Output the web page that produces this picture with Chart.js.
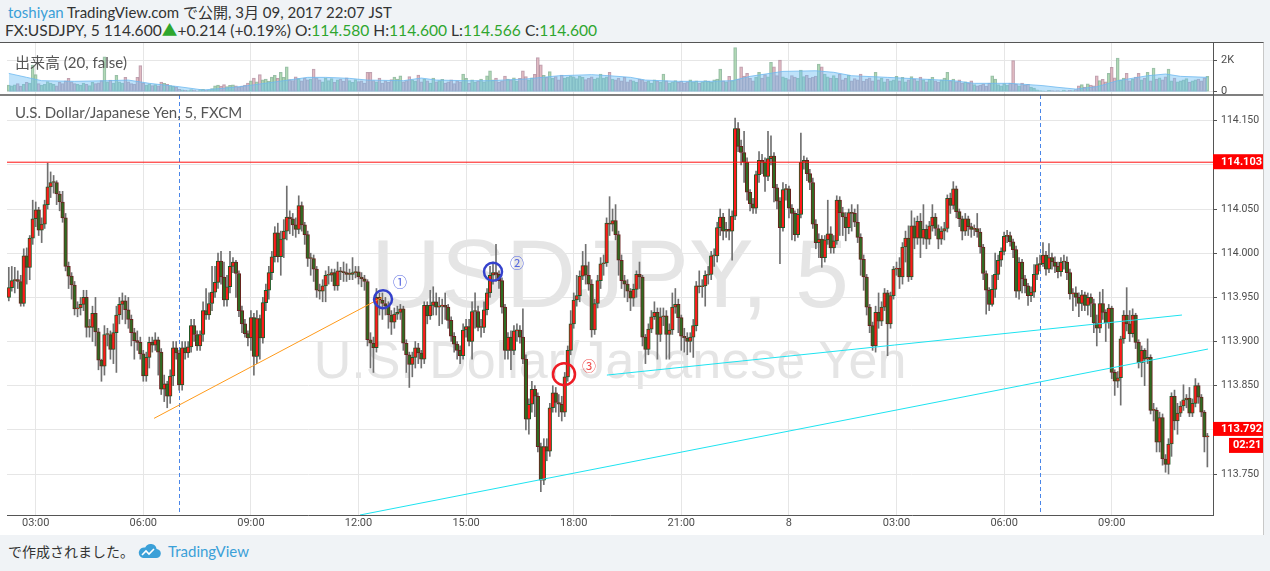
<!DOCTYPE html>
<html lang="ja">
<head>
<meta charset="utf-8">
<title>USDJPY 5</title>
<script src="https://cdn.jsdelivr.net/npm/chart.js@4.4.1/dist/chart.umd.min.js"></script>
<style>
  html, body { margin: 0; padding: 0; }
  body { width: 1270px; height: 571px; background: #f0f3f6; position: relative; overflow: hidden;
         font-family: Lato, "Noto Sans CJK JP", sans-serif; color: #333; }
  .txt { position: absolute; white-space: nowrap; line-height: 18px; font-size: 15px; z-index: 3; }
  .blue { color: #3ba0d8; }
  .green { color: #2ea62e; }
  #frame { position: absolute; left: 0; top: 42px; width: 1263px; height: 492px; background: #fff;
           border-top: 1px solid #555; border-right: 1px solid #c8c8c8; }
  #frame canvas { position: absolute; left: 0; top: 0; z-index: 2; }
  .wm { position: absolute; left: 7px; width: 1206px; text-align: center; color: #e5e5e5;
        font-family: "Liberation Sans", Arial, sans-serif; white-space: nowrap; z-index: 1; }
  .num { font-family: "Noto Sans CJK JP", sans-serif; font-size: 14px; line-height: 16px; }
</style>
</head>
<body>
<div class="txt" style="left:8px;top:3px"><span class="blue">toshiyan</span> TradingView.com で公開, 3月 09, 2017 22:07 JST</div>
<div class="txt" style="left:5px;top:21px;font-size:15.6px">FX:USDJPY, 5 114.600<span class="green">▲</span>+0.214 (+0.19%) O:<span class="green">114.580</span> H:<span class="green">114.600</span> L:<span class="green">114.566</span> C:<span class="green">114.600</span></div>

<div id="frame">
  <div class="wm" style="top:182px;font-size:97px;line-height:97px">USDJPY, 5</div>
  <div class="wm" style="top:291px;font-size:52px;line-height:52px">U.S. Dollar/Japanese Yen</div>
  <canvas id="chart" width="1263" height="492"></canvas>
</div>

<div class="txt" style="left:15px;top:53px;color:#555">出来高 (20, false)</div>
<div class="txt" style="left:15px;top:103px;color:#555">U.S. Dollar/Japanese Yen, 5, FXCM</div>
<div class="txt num" style="left:393px;top:273px;color:#5566e0">①</div>
<div class="txt num" style="left:510px;top:254px;color:#5566e0">②</div>
<div class="txt num" style="left:582px;top:357px;color:#f05050">③</div>

<div class="txt" style="left:8px;top:542px;font-size:14px;font-family:'Noto Sans CJK JP',sans-serif">で作成されました。</div>
<svg style="position:absolute;left:137px;top:543px" width="24" height="16" viewBox="0 0 24 16">
  <path d="M6 15h13a4.5 4.5 0 0 0 .6-9A6 6 0 0 0 8.2 4.6 5.2 5.2 0 0 0 6 15z" fill="#3ba0d8"/>
  <path d="M5 12l4-4 3 3 5-5" stroke="#fff" stroke-width="1.6" fill="none"/>
</svg>
<div class="txt blue" style="left:168px;top:542px">TradingView</div>

<script>
// 5 minute candles, index 0 = first bar on the left (02:15)
var openPx = [
  113.950,113.961,113.969,113.970,113.968,113.943,113.997,113.984,114.017,114.039,
  114.049,114.026,114.033,114.055,114.075,114.080,114.080,114.067,114.058,114.040,
  113.985,113.974,113.964,113.937,113.938,113.942,113.950,113.916,113.916,113.932,
  113.911,113.879,113.872,113.908,113.908,113.891,113.910,113.930,113.942,113.946,
  113.936,113.925,113.910,113.901,113.899,113.886,113.861,113.882,113.899,113.896,
  113.902,113.888,113.846,113.852,113.838,113.861,113.893,113.887,113.851,113.893,
  113.887,113.894,113.918,113.908,113.895,113.908,113.935,113.930,113.943,113.956,
  113.967,113.991,113.973,113.947,113.962,113.985,113.990,113.977,113.935,113.920,
  113.909,113.904,113.927,113.883,113.926,113.904,113.944,113.958,113.978,113.996,
  114.023,113.996,114.016,114.025,114.041,114.039,114.032,114.027,114.054,114.032,
  114.021,113.994,113.994,113.982,113.958,113.957,113.963,113.975,113.975,113.978,
  113.963,113.980,113.979,113.978,113.976,113.976,113.978,113.979,113.973,113.971,
  113.968,113.902,113.898,113.893,113.950,113.947,113.943,113.940,113.930,113.922,
  113.931,113.933,113.937,113.898,113.885,113.874,113.882,113.893,113.887,113.880,
  113.941,113.929,113.941,113.945,113.939,113.940,113.941,113.939,113.924,113.906,
  113.897,113.890,113.884,113.913,113.917,113.900,113.934,113.934,113.916,113.916,
  113.936,113.955,113.975,113.978,113.976,113.969,113.939,113.890,113.905,113.890,
  113.912,113.913,113.905,113.880,113.812,113.829,113.846,113.838,113.781,113.743,
  113.781,113.776,113.825,113.842,113.831,113.829,113.820,113.860,113.890,113.920,
  113.947,113.952,113.974,113.986,113.975,113.965,113.913,113.943,113.969,113.988,
  113.989,114.034,114.033,114.037,114.021,113.992,113.969,113.965,113.957,113.949,
  113.959,113.976,113.973,113.905,113.891,113.914,113.928,113.933,113.908,113.928,
  113.929,113.908,113.913,113.939,113.942,113.927,113.906,113.904,113.900,113.905,
  113.918,113.963,113.962,113.963,113.975,113.976,113.997,113.997,114.029,114.041,
  114.025,114.027,114.025,114.042,114.141,114.121,114.114,114.103,114.069,114.056,
  114.051,114.089,114.105,114.103,114.087,114.107,114.110,114.074,114.059,114.029,
  114.072,114.073,114.051,114.045,114.021,114.044,114.103,114.105,114.090,114.080,
  114.033,114.012,114.016,113.995,114.015,114.022,114.006,114.014,114.060,114.046,
  114.041,114.029,114.046,114.045,114.035,114.018,113.993,113.973,113.939,113.918,
  113.895,113.933,113.923,113.939,113.955,113.920,113.952,113.982,113.983,113.973,
  114.007,114.017,113.973,114.031,114.017,114.036,114.017,114.027,114.016,114.031,
  114.041,114.028,114.016,114.025,114.028,114.062,114.054,114.073,114.047,114.039,
  114.025,114.039,114.030,114.027,114.028,114.024,114.007,113.977,113.958,113.942,
  113.959,113.976,113.992,114.002,114.019,114.020,114.013,114.004,113.957,113.990,
  113.971,113.963,113.952,113.956,113.976,113.987,113.988,113.998,113.982,113.995,
  113.990,113.985,113.979,113.990,113.990,113.978,113.954,113.955,113.950,113.943,
  113.953,113.941,113.950,113.943,113.921,113.915,113.943,113.933,113.921,113.938,
  113.865,113.855,113.859,113.903,113.930,113.920,113.909,113.930,113.899,113.876,
  113.890,113.880,113.882,113.822,113.822,113.786,113.814,113.767,113.761,113.784,
  113.838,113.810,113.819,113.827,113.834,113.836,113.819,113.830,113.850,113.837,
  113.820,113.792
];
var highPx = [
  113.984,113.985,113.984,113.980,113.975,114.005,114.006,114.020,114.060,114.058,
  114.052,114.040,114.060,114.102,114.092,114.088,114.082,114.070,114.070,114.045,
  113.990,113.978,113.968,113.945,113.950,113.958,113.958,113.925,113.940,113.950,
  113.915,113.880,113.918,113.915,113.912,113.920,113.940,113.950,113.955,113.952,
  113.950,113.930,113.915,113.912,113.905,113.890,113.888,113.905,113.905,113.910,
  113.905,113.892,113.862,113.855,113.868,113.900,113.900,113.890,113.900,113.900,
  113.900,113.925,113.925,113.912,113.912,113.945,113.960,113.955,113.985,113.985,
  114.000,114.002,113.990,113.975,114.002,113.995,113.992,113.980,113.940,113.925,
  113.912,113.935,113.932,113.935,113.930,113.950,113.965,113.985,114.002,114.030,
  114.034,114.025,114.038,114.076,114.048,114.045,114.040,114.065,114.058,114.035,
  114.025,114.000,113.998,113.985,113.965,113.970,113.980,113.985,113.982,113.982,
  113.990,113.984,113.990,113.988,113.982,113.995,113.985,113.985,113.978,113.975,
  113.970,113.910,113.905,113.960,113.955,113.955,113.950,113.945,113.935,113.938,
  113.940,113.942,113.940,113.902,113.888,113.888,113.900,113.898,113.890,113.945,
  113.945,113.958,113.962,113.955,113.950,113.948,113.955,113.942,113.928,113.910,
  113.900,113.895,113.920,113.925,113.925,113.945,113.955,113.940,113.925,113.945,
  113.960,113.985,113.990,114.010,113.980,113.972,113.942,113.910,113.912,113.918,
  113.920,113.918,113.937,113.885,113.835,113.855,113.850,113.842,113.785,113.790,
  113.790,113.830,113.850,113.848,113.840,113.838,113.865,113.895,113.935,113.955,
  113.975,113.980,114.002,114.010,113.990,113.970,113.948,113.975,113.995,113.998,
  114.040,114.064,114.050,114.055,114.025,113.998,113.975,113.970,113.960,113.965,
  113.980,113.990,113.975,113.908,113.920,113.935,113.945,113.938,113.938,113.938,
  113.935,113.920,113.955,113.960,113.948,113.930,113.915,113.910,113.910,113.925,
  113.968,113.980,113.970,113.980,113.985,114.002,114.005,114.035,114.050,114.045,
  114.035,114.050,114.048,114.153,114.148,114.128,114.138,114.108,114.072,114.062,
  114.093,114.115,114.112,114.108,114.138,114.133,114.114,114.078,114.063,114.080,
  114.078,114.076,114.055,114.048,114.050,114.136,114.110,114.108,114.095,114.085,
  114.038,114.022,114.020,114.020,114.060,114.030,114.020,114.065,114.064,114.052,
  114.046,114.050,114.055,114.050,114.055,114.022,113.998,113.976,113.942,113.922,
  113.940,113.955,113.945,113.960,113.958,113.956,113.985,113.990,113.995,114.012,
  114.025,114.031,114.048,114.040,114.042,114.045,114.055,114.032,114.036,114.055,
  114.045,114.032,114.030,114.035,114.066,114.068,114.081,114.076,114.050,114.042,
  114.045,114.042,114.034,114.032,114.045,114.028,114.010,113.980,113.961,113.975,
  114.000,113.998,114.006,114.024,114.026,114.024,114.016,114.008,113.995,113.993,
  113.975,113.966,113.962,113.987,113.995,113.998,114.012,114.002,114.011,114.000,
  113.996,113.990,113.995,113.998,113.996,113.982,113.960,113.962,113.955,113.958,
  113.956,113.955,113.954,113.948,113.930,113.956,113.959,113.936,113.942,113.940,
  113.868,113.866,113.906,113.935,113.961,113.935,113.937,113.932,113.902,113.895,
  113.892,113.903,113.885,113.830,113.825,113.820,113.818,113.772,113.790,113.842,
  113.845,113.830,113.832,113.851,113.840,113.848,113.835,113.858,113.853,113.840,
  113.822,113.796
];
var lowPx = [
  113.946,113.957,113.955,113.960,113.940,113.940,113.965,113.970,114.010,114.030,
  114.020,114.012,114.028,114.050,114.063,114.068,114.055,114.048,114.035,113.980,
  113.960,113.948,113.930,113.928,113.930,113.935,113.905,113.905,113.900,113.895,
  113.868,113.855,113.862,113.895,113.880,113.875,113.865,113.920,113.925,113.920,
  113.915,113.895,113.880,113.890,113.880,113.855,113.855,113.870,113.888,113.890,
  113.862,113.840,113.832,113.825,113.830,113.850,113.880,113.845,113.845,113.880,
  113.882,113.888,113.900,113.890,113.890,113.900,113.925,113.925,113.935,113.950,
  113.960,113.965,113.940,113.940,113.955,113.978,113.950,113.928,113.910,113.905,
  113.895,113.890,113.862,113.875,113.880,113.898,113.935,113.948,113.970,113.990,
  113.990,113.975,113.995,114.015,114.022,114.020,114.018,114.022,114.025,114.010,
  113.985,113.975,113.968,113.950,113.948,113.945,113.945,113.965,113.968,113.958,
  113.958,113.970,113.968,113.968,113.970,113.970,113.972,113.965,113.962,113.958,
  113.895,113.870,113.865,113.888,113.930,113.925,113.930,113.915,113.908,113.915,
  113.925,113.925,113.890,113.865,113.848,113.860,113.870,113.875,113.870,113.875,
  113.920,113.925,113.930,113.930,113.918,113.920,113.925,113.915,113.900,113.888,
  113.880,113.875,113.880,113.905,113.895,113.880,113.915,113.912,113.905,113.910,
  113.930,113.950,113.965,113.968,113.960,113.932,113.880,113.880,113.868,113.885,
  113.900,113.898,113.875,113.800,113.795,113.820,113.815,113.775,113.730,113.738,
  113.765,113.770,113.820,113.820,113.815,113.810,113.815,113.855,113.885,113.915,
  113.940,113.945,113.970,113.965,113.958,113.905,113.908,113.938,113.960,113.975,
  113.985,114.020,114.025,114.015,113.975,113.960,113.950,113.945,113.935,113.940,
  113.950,113.960,113.895,113.875,113.885,113.910,113.925,113.880,113.900,113.918,
  113.880,113.880,113.908,113.932,113.910,113.890,113.888,113.885,113.888,113.882,
  113.912,113.955,113.950,113.940,113.965,113.970,113.985,113.990,114.020,114.015,
  114.018,114.015,113.992,114.038,114.115,114.100,114.080,114.060,114.048,114.045,
  114.045,114.080,114.090,114.070,114.082,114.100,114.058,114.050,113.988,114.025,
  114.060,114.040,114.015,114.014,114.018,114.040,114.095,114.082,114.072,114.028,
  114.005,113.995,113.984,113.990,114.010,114.000,114.000,114.010,114.020,114.020,
  114.014,114.022,114.025,114.030,114.012,113.975,113.958,113.930,113.910,113.890,
  113.888,113.915,113.918,113.935,113.884,113.915,113.948,113.975,113.960,113.965,
  113.990,113.968,113.970,114.005,114.010,113.995,114.010,114.005,114.010,114.025,
  114.020,114.005,114.010,114.015,114.024,114.045,114.050,114.040,114.030,114.015,
  114.020,114.020,114.018,114.020,114.018,114.000,113.970,113.931,113.935,113.940,
  113.950,113.970,113.985,113.998,114.012,114.008,113.995,113.950,113.948,113.955,
  113.955,113.941,113.945,113.950,113.970,113.980,113.985,113.975,113.978,113.982,
  113.978,113.972,113.974,113.982,113.970,113.948,113.935,113.940,113.928,113.935,
  113.935,113.930,113.928,113.910,113.895,113.910,113.925,113.900,113.915,113.858,
  113.839,113.848,113.828,113.898,113.912,113.900,113.905,113.892,113.870,113.860,
  113.850,113.875,113.818,113.810,113.775,113.775,113.760,113.752,113.750,113.770,
  113.800,113.795,113.815,113.822,113.825,113.815,113.815,113.826,113.830,113.815,
  113.775,113.758
];
var closePx = [
  113.961,113.969,113.970,113.968,113.943,113.997,113.984,114.017,114.039,114.049,
  114.026,114.033,114.055,114.075,114.080,114.080,114.067,114.058,114.040,113.985,
  113.974,113.964,113.937,113.938,113.942,113.950,113.916,113.916,113.932,113.911,
  113.879,113.872,113.908,113.908,113.891,113.910,113.930,113.942,113.946,113.936,
  113.925,113.910,113.901,113.899,113.886,113.861,113.882,113.899,113.896,113.902,
  113.888,113.846,113.852,113.838,113.861,113.893,113.887,113.851,113.893,113.887,
  113.894,113.918,113.908,113.895,113.908,113.935,113.930,113.943,113.956,113.967,
  113.991,113.973,113.947,113.962,113.985,113.990,113.977,113.935,113.920,113.909,
  113.904,113.927,113.883,113.926,113.904,113.944,113.958,113.978,113.996,114.023,
  113.996,114.016,114.025,114.041,114.039,114.032,114.027,114.054,114.032,114.021,
  113.994,113.994,113.982,113.958,113.957,113.963,113.975,113.975,113.978,113.963,
  113.980,113.979,113.978,113.976,113.976,113.978,113.979,113.973,113.971,113.968,
  113.902,113.898,113.893,113.950,113.947,113.943,113.940,113.930,113.922,113.931,
  113.933,113.937,113.898,113.885,113.874,113.882,113.893,113.887,113.880,113.941,
  113.929,113.941,113.945,113.939,113.940,113.941,113.939,113.924,113.906,113.897,
  113.890,113.884,113.913,113.917,113.900,113.934,113.934,113.916,113.916,113.936,
  113.955,113.975,113.978,113.976,113.969,113.939,113.890,113.905,113.890,113.912,
  113.913,113.905,113.880,113.812,113.829,113.846,113.838,113.781,113.743,113.781,
  113.776,113.825,113.842,113.831,113.829,113.820,113.860,113.890,113.920,113.947,
  113.952,113.974,113.986,113.975,113.965,113.913,113.943,113.969,113.988,113.989,
  114.034,114.033,114.037,114.021,113.992,113.969,113.965,113.957,113.949,113.959,
  113.976,113.973,113.905,113.891,113.914,113.928,113.933,113.908,113.928,113.929,
  113.908,113.913,113.939,113.942,113.927,113.906,113.904,113.900,113.905,113.918,
  113.963,113.962,113.963,113.975,113.976,113.997,113.997,114.029,114.041,114.025,
  114.027,114.025,114.042,114.141,114.121,114.114,114.103,114.069,114.056,114.051,
  114.089,114.105,114.103,114.087,114.107,114.110,114.074,114.059,114.029,114.072,
  114.073,114.051,114.045,114.021,114.044,114.103,114.105,114.090,114.080,114.033,
  114.012,114.016,113.995,114.015,114.022,114.006,114.014,114.060,114.046,114.041,
  114.029,114.046,114.045,114.035,114.018,113.993,113.973,113.939,113.918,113.895,
  113.933,113.923,113.939,113.955,113.920,113.952,113.982,113.983,113.973,114.007,
  114.017,113.973,114.031,114.017,114.036,114.017,114.027,114.016,114.031,114.041,
  114.028,114.016,114.025,114.028,114.062,114.054,114.073,114.047,114.039,114.025,
  114.039,114.030,114.027,114.028,114.024,114.007,113.977,113.958,113.942,113.959,
  113.976,113.992,114.002,114.019,114.020,114.013,114.004,113.957,113.990,113.971,
  113.963,113.952,113.956,113.976,113.987,113.988,113.998,113.982,113.995,113.990,
  113.985,113.979,113.990,113.990,113.978,113.954,113.955,113.950,113.943,113.953,
  113.941,113.950,113.943,113.921,113.915,113.943,113.933,113.921,113.938,113.865,
  113.855,113.859,113.903,113.930,113.920,113.909,113.930,113.899,113.876,113.890,
  113.880,113.882,113.822,113.822,113.786,113.814,113.767,113.761,113.784,113.838,
  113.810,113.819,113.827,113.834,113.836,113.819,113.830,113.850,113.837,113.820,
  113.792,113.792
];
var volume = [
  420,380,450,520,360,480,610,550,1720,1100,
  520,430,480,650,560,470,380,600,520,700,
  860,640,520,470,430,560,480,400,610,520,
  580,720,2250,640,750,560,1050,640,560,925,
  640,520,480,920,1680,560,430,510,400,460,
  380,620,540,470,400,350,300,160,120,90,
  80,140,110,60,130,150,90,120,200,380,
  420,360,460,330,410,440,380,300,360,420,
  560,700,880,640,1100,760,820,690,940,1050,
  860,1250,930,1610,780,720,960,840,700,880,
  760,820,1460,900,760,640,880,720,840,600,
  760,820,680,900,720,610,780,650,700,560,
  1250,1250,720,640,880,560,700,620,780,940,
  820,1030,640,720,970,760,680,1075,640,820,
  700,560,880,640,720,800,560,640,760,520,
  700,640,1140,860,540,760,620,700,820,640,
  1030,1350,760,880,620,700,1000,820,760,900,
  680,860,1350,980,760,900,1120,2200,1740,1060,
  920,1300,860,980,760,1070,880,940,1020,960,
  840,1000,920,780,860,960,820,900,1140,880,
  960,1250,820,760,880,700,925,640,760,700,
  600,820,760,640,700,560,760,680,620,1140,
  700,560,640,720,600,680,560,640,760,620,
  700,560,640,720,680,600,760,820,1460,700,
  640,990,720,2850,820,1600,1000,1180,860,700,
  940,1250,880,1100,960,1900,1600,1040,2040,960,
  880,780,1040,940,860,1400,980,1060,880,940,
  1000,1780,1600,1140,960,880,1040,860,1140,760,
  860,1080,700,840,760,1140,680,820,900,700,
  1250,760,880,640,820,700,760,990,700,920,
  640,760,970,820,700,940,760,640,820,930,
  700,620,760,880,1250,700,820,640,760,560,
  640,540,700,460,380,420,500,360,560,1030,
  820,460,380,520,420,560,2000,480,380,560,
  420,480,300,240,120,80,60,40,90,70,
  50,80,40,100,60,90,70,130,380,460,
  300,500,420,380,1030,720,800,640,1180,1570,
  900,2170,760,880,1180,700,820,940,1180,760,
  880,1250,700,1530,820,900,760,960,1460,700,
  880,640,700,760,840,620,700,760,820,700,
  900,990
];
// volume moving average (20) at these bars
var volMaIdx = [0,6,11,22,33,40,47,57,65,73,80,92,100,106,114,120,132,138,143,153,161,173,184,195,201,
                208,213,224,235,242,248,259,270,276,282,294,305,316,323,335,346,351,357,364,371,381,387,392,401];
var volMaVal = [1180,925,710,670,710,750,540,320,110,240,390,710,925,925,860,750,710,880,750,710,710,820,1030,1100,1030,
                925,750,670,670,710,990,1310,1350,1250,1030,925,820,710,540,540,390,280,170,320,710,1030,1140,990,925];

var timeTickIdx = [9, 45, 81, 117, 153, 189, 225, 261, 297, 333, 369];
var timeTickLabels = ['03:00', '06:00', '09:00', '12:00', '15:00', '18:00', '21:00', '8', '03:00', '06:00', '09:00'];
var priceTicks = [113.75, 113.80, 113.85, 113.90, 113.95, 114.00, 114.05, 114.10, 114.15];
var volTicks = [0, 2000];
var volTickLabels = ['0', '2K'];

// drawings on the chart
var lineLevel = 114.103;
var sessionBreaks = [57, 345];
var orangeLine = [[48.6, 113.813], [124.9, 113.950]];
var cyanLineA = [[117.5, 113.7036], [401.2, 113.8915]];
var cyanLineB = [[200.1, 113.862], [392.5, 113.930]];
var blueMarks = [[125.2, 113.948], [162.0, 113.979]];
var redMarks = [[185.75, 113.863]];
var countdown = '02:21';

var upFill = '#ff1a1a', upBorder = '#1f5a26';
var downFill = '#2f6b22', downBorder = '#6b1f1f';

function isUp(i) {
	return closePx[i] >= openPx[i];
}

function toPoints(arr) {
	return arr.map(function (p) { return { x: p[0], y: p[1] }; });
}

var wickData = highPx.map(function (h, i) { return { x: i, y: [lowPx[i], h] }; });
var bodyData = closePx.map(function (c, i) { return { x: i, y: [openPx[i], c] }; });
var volData = volume.map(function (v, i) { return { x: i, y: v }; });
var volMaData = volMaIdx.map(function (x, i) { return { x: x, y: volMaVal[i] }; });

var tickFont = { family: 'Roboto', size: 11 };

function noPad(s) {
	s.paddingTop = 0;
	s.paddingBottom = 0;
	s.paddingLeft = 0;
	s.paddingRight = 0;
}

// session breaks, pane separator and the price tags on the axis
var chartDecor = {
	id: 'chartDecor',
	beforeDatasetsDraw: function (chart) {
		var ctx = chart.ctx, x = chart.scales.x, y = chart.scales.y;
		ctx.save();
		ctx.strokeStyle = '#4a86e8';
		ctx.lineWidth = 1;
		ctx.setLineDash([4, 3]);
		sessionBreaks.forEach(function (b) {
			var px = Math.round(x.getPixelForValue(b)) + 0.5;
			ctx.beginPath();
			ctx.moveTo(px, y.top);
			ctx.lineTo(px, y.bottom);
			ctx.stroke();
		});
		ctx.restore();
	},
	afterDraw: function (chart) {
		var ctx = chart.ctx, y = chart.scales.y, yv = chart.scales.yv;
		ctx.save();
		ctx.strokeStyle = '#555';
		ctx.lineWidth = 1.5;
		ctx.beginPath();
		ctx.moveTo(0, yv.bottom);
		ctx.lineTo(chart.width, yv.bottom);
		ctx.stroke();

		ctx.font = 'bold 11px Roboto';
		ctx.textBaseline = 'middle';
		var py = y.getPixelForValue(lineLevel);
		ctx.fillStyle = '#ff0000';
		ctx.fillRect(y.left, py - 8, 50, 15);
		ctx.fillStyle = '#fff';
		ctx.fillText(lineLevel.toFixed(3), y.left + 8, py);

		var last = closePx[closePx.length - 1];
		var ly = y.getPixelForValue(last);
		ctx.fillStyle = '#ff0000';
		ctx.fillRect(y.left, ly - 15, 50, 14);
		ctx.fillRect(y.left + 16, ly + 1, 34, 15);
		ctx.fillStyle = '#fff';
		ctx.fillText(last.toFixed(3), y.left + 8, ly - 8);
		ctx.fillText(countdown, y.left + 20, ly + 8.5);
		ctx.restore();
	}
};

var config = {
	type: 'bar',
	data: {
		datasets: [{
			type: 'line',
			data: toPoints(blueMarks),
			yAxisID: 'y',
			showLine: false,
			pointRadius: 9,
			pointBorderWidth: 2.5,
			pointBorderColor: '#3441cc',
			pointBackgroundColor: 'rgba(0,0,0,0)',
			order: 0
		}, {
			type: 'line',
			data: toPoints(redMarks),
			yAxisID: 'y',
			showLine: false,
			pointRadius: 11,
			pointBorderWidth: 2.5,
			pointBorderColor: '#ee1c25',
			pointBackgroundColor: 'rgba(0,0,0,0)',
			order: 0
		}, {
			type: 'line',
			data: [{ x: -1, y: lineLevel }, { x: 405, y: lineLevel }],
			yAxisID: 'y',
			borderColor: '#ff1010',
			borderWidth: 1,
			pointRadius: 0,
			order: 1
		}, {
			type: 'line',
			data: toPoints(orangeLine),
			yAxisID: 'y',
			borderColor: '#ff9a1a',
			borderWidth: 1,
			pointRadius: 0,
			order: 1
		}, {
			type: 'line',
			data: toPoints(cyanLineA),
			yAxisID: 'y',
			borderColor: '#1ee3f0',
			borderWidth: 1,
			pointRadius: 0,
			order: 1
		}, {
			type: 'line',
			data: toPoints(cyanLineB),
			yAxisID: 'y',
			borderColor: '#1ee3f0',
			borderWidth: 1,
			pointRadius: 0,
			order: 1
		}, {
			data: bodyData,
			yAxisID: 'y',
			grouped: false,
			barThickness: 3.6,
			minBarLength: 1,
			borderWidth: 1,
			borderSkipped: false,
			backgroundColor: function (c) { return isUp(c.dataIndex) ? upFill : downFill; },
			borderColor: function (c) { return isUp(c.dataIndex) ? upBorder : downBorder; },
			order: 2
		}, {
			data: wickData,
			yAxisID: 'y',
			grouped: false,
			barThickness: 1,
			backgroundColor: '#707070',
			order: 3
		}, {
			type: 'line',
			data: volMaData,
			yAxisID: 'yv',
			borderColor: 'rgba(110,185,240,0.8)',
			borderWidth: 1,
			backgroundColor: 'rgba(110,190,245,0.45)',
			fill: 'origin',
			pointRadius: 0,
			order: 4
		}, {
			data: volData,
			yAxisID: 'yv',
			grouped: false,
			barThickness: 3,
			borderWidth: 1,
			borderSkipped: false,
			backgroundColor: function (c) { return isUp(c.dataIndex) ? 'rgba(170,220,170,0.55)' : 'rgba(235,185,190,0.6)'; },
			borderColor: function (c) { return isUp(c.dataIndex) ? 'rgba(120,170,140,0.75)' : 'rgba(170,130,150,0.75)'; },
			order: 5
		}]
	},
	options: {
		responsive: false,
		animation: false,
		layout: { autoPadding: false, padding: { left: 7, right: 0, top: 0, bottom: 0 } },
		plugins: {
			legend: { display: false },
			tooltip: { enabled: false }
		},
		scales: {
			yv: {
				type: 'linear',
				position: 'right',
				stack: 'panes',
				stackWeight: 52,
				min: -213,
				max: 3142,
				beginAtZero: false,
				afterBuildTicks: function (s) { s.ticks = volTicks.map(function (v) { return { value: v }; }); },
				afterFit: function (s) { s.width = 50; noPad(s); },
				grid: { color: '#e6e6e6', tickLength: 4, tickColor: '#555' },
				border: { color: '#555' },
				ticks: { font: tickFont, color: '#4d4d4d', padding: 4,
					callback: function (v, i) { return volTickLabels[i]; } }
			},
			y: {
				type: 'linear',
				position: 'right',
				stack: 'panes',
				stackWeight: 420,
				min: 113.7036,
				max: 114.1791,
				beginAtZero: false,
				afterBuildTicks: function (s) { s.ticks = priceTicks.map(function (v) { return { value: v }; }); },
				afterFit: function (s) { s.width = 50; noPad(s); },
				grid: { color: '#e6e6e6', tickLength: 4, tickColor: '#555' },
				border: { color: '#555' },
				ticks: { font: { family: 'Roboto', size: 10.5 }, color: '#4d4d4d', padding: 4,
					callback: function (v) { return v.toFixed(3); } }
			},
			x: {
				type: 'linear',
				min: -0.6,
				max: 402.88,
				offset: false,
				afterBuildTicks: function (s) { s.ticks = timeTickIdx.map(function (v) { return { value: v }; }); },
				afterFit: function (s) { s.height = 20; noPad(s); },
				grid: { color: '#e6e6e6', drawTicks: false, offset: false },
				border: { color: '#555' },
				ticks: { font: tickFont, color: '#4d4d4d', padding: 2, autoSkip: false, maxRotation: 0,
					callback: function (v, i) { return timeTickLabels[i]; } }
			}
		}
	},
	plugins: [chartDecor]
};

var chart = new Chart(document.getElementById('chart'), config);
</script>
</body>
</html>
